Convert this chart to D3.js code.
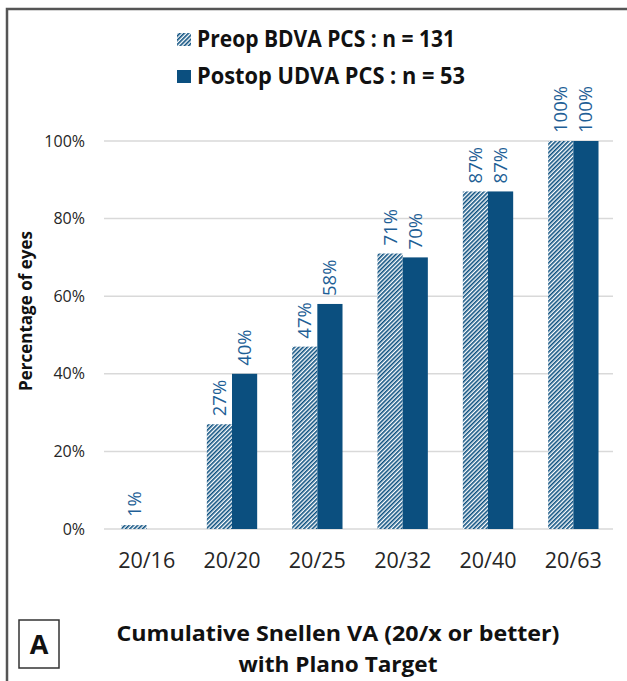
<!DOCTYPE html>
<html><head><meta charset="utf-8">
<script src="https://cdn.jsdelivr.net/npm/d3@7"></script>
<style>
html,body{margin:0;padding:0;background:#fff;}
svg{display:block;font-family:"Open Sans",sans-serif;}
</style></head>
<body>
<script>
const categories = ["20/16","20/20","20/25","20/32","20/40","20/63"];
const preopBDVA = [1, 27, 47, 71, 87, 100];
const postopUDVA = [null, 40, 58, 70, 87, 100];
const seriesNames = ["Preop BDVA PCS : n = 131", "Postop UDVA PCS :  n = 53"];
const yTicks = [0, 20, 40, 60, 80, 100];

const W = 627, H = 681;
const blue = "#0b4f7f";
const svg = d3.select("body").append("svg").attr("width", W).attr("height", H);

const defs = svg.append("defs");
const pat = defs.append("pattern").attr("id","hatch").attr("patternUnits","userSpaceOnUse")
  .attr("width",3).attr("height",3).attr("patternTransform","rotate(45)");
pat.append("rect").attr("width",3).attr("height",3).attr("fill","#ffffff");
pat.append("rect").attr("x",0).attr("y",0).attr("width",1.6).attr("height",3).attr("fill",blue);

// frame
svg.append("path").attr("d",`M7,${H} L7,9 L${W},9`).attr("fill","none").attr("stroke","#555").attr("stroke-width",2.5);

const x0 = d3.scaleBand().domain(categories).range([104,616]).paddingInner(0.41).paddingOuter(0.205);
const x1 = d3.scaleBand().domain([0,1]).range([0, x0.bandwidth()]);
const y = d3.scaleLinear().domain([0,100]).range([529,141]);

// gridlines
svg.append("g").selectAll("line").data(yTicks).join("line")
  .attr("x1",104).attr("x2",613).attr("y1",d=>y(d)).attr("y2",d=>y(d))
  .attr("stroke","#d9d9d9").attr("stroke-width",1.5);

// y tick labels
svg.append("g").selectAll("text").data(yTicks).join("text")
  .attr("x",85).attr("y",d=>y(d)).attr("dy","0.35em").attr("text-anchor","end")
  .attr("font-size",16).attr("fill","#262626").text(d=>d+"%");

// x tick labels
svg.append("g").selectAll("text").data(categories).join("text")
  .attr("x",d=>x0(d)+x0.bandwidth()/2).attr("y",568).attr("text-anchor","middle")
  .attr("font-size",21.5).attr("fill","#262626").text(d=>d);

const data = [preopBDVA, postopUDVA];
data.forEach((vals, si) => {
  const g = svg.append("g");
  const items = categories.map((c,i)=>({c, v: vals[i]})).filter(d=>d.v!=null);
  g.selectAll("rect").data(items).join("rect")
    .attr("x",d=>x0(d.c)+x1(si)).attr("width",x1.bandwidth())
    .attr("y",d=>y(d.v)).attr("height",d=>y(0)-y(d.v))
    .attr("fill", si===0 ? "url(#hatch)" : blue);
  g.selectAll("text").data(items).join("text")
    .attr("transform",d=>`translate(${x0(d.c)+x1(si)+x1.bandwidth()/2},${y(d.v)-8}) rotate(-90)`)
    .attr("dy","0.35em").attr("text-anchor","start")
    .attr("font-size",18.5).attr("fill","#1f5f96").text(d=>d.v+"%");
});

// legend
const leg = svg.append("g");
[0,1].forEach(i=>{
  leg.append("rect").attr("x",177).attr("y",33+i*37).attr("width",14).attr("height",13)
    .attr("fill", i===0 ? "url(#hatch)" : blue);
  leg.append("text").attr("x",197).attr("y",47+i*37).attr("font-size",22.5).attr("font-weight","bold")
    .attr("fill","#111").attr("textLength", i===0?258:268).attr("lengthAdjust","spacingAndGlyphs")
    .text(seriesNames[i]);
});

// y title
svg.append("text").attr("transform","translate(32,311) rotate(-90)").attr("text-anchor","middle")
  .attr("font-size",17).attr("font-weight","bold").attr("fill","#111").text("Percentage of eyes");

// x title
svg.append("text").attr("x",338).attr("y",641).attr("text-anchor","middle").attr("font-size",22)
  .attr("font-weight","bold").attr("fill","#111").attr("textLength",443).attr("lengthAdjust","spacingAndGlyphs")
  .text("Cumulative Snellen VA (20/x or better)");
svg.append("text").attr("x",338).attr("y",672).attr("text-anchor","middle").attr("font-size",22)
  .attr("font-weight","bold").attr("fill","#111").attr("textLength",199).attr("lengthAdjust","spacingAndGlyphs")
  .text("with Plano Target");

// panel label
svg.append("rect").attr("x",19).attr("y",620).attr("width",40).attr("height",48)
  .attr("fill","#fff").attr("stroke","#333").attr("stroke-width",1.5);
svg.append("text").attr("x",39).attr("y",644).attr("dy","0.36em").attr("text-anchor","middle")
  .attr("font-size",27).attr("font-weight","bold").attr("fill","#111").text("A");
</script>
</body></html>
